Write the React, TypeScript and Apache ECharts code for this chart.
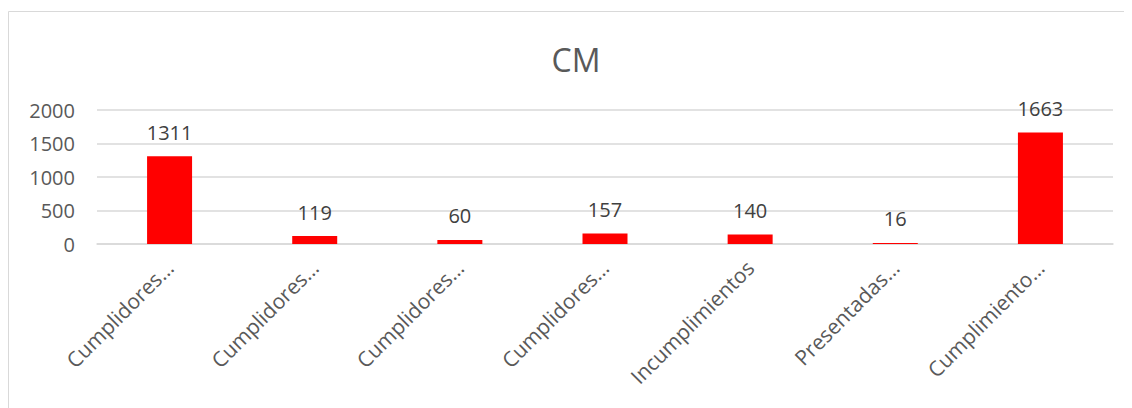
import React, { useEffect, useRef } from "react";
import * as echarts from "echarts";

const categories = [
  "Cumplidores…",
  "Cumplidores…",
  "Cumplidores…",
  "Cumplidores…",
  "Incumplimientos",
  "Presentadas…",
  "Cumplimiento…",
];
const values = [1311, 119, 60, 157, 140, 16, 1663];
const titleText = "CM";

export default function App() {
  const ref = useRef<HTMLDivElement>(null);
  useEffect(() => {
    if (!ref.current) return;
    const chart = echarts.init(ref.current, undefined, { renderer: "svg" });
    const font = "'Open Sans', sans-serif";
    chart.setOption({
      animation: false,
      backgroundColor: "#ffffff",
      title: {
        text: titleText,
        left: 563,
        textAlign: "center",
        top: 30,
        textStyle: { fontFamily: font, fontSize: 32, fontWeight: "normal", color: "#595959" },
      },
      graphic: [
        {
          type: "rect",
          shape: { x: 0.5, y: 3.5, width: 1300, height: 600 },
          style: { fill: "none", stroke: "#d9d9d9", lineWidth: 1 },
          silent: true,
        },
      ],
      grid: { left: 89, right: 11, top: 102, bottom: 164 },
      xAxis: {
        type: "category",
        data: categories,
        axisLine: { show: true, lineStyle: { color: "#d9d9d9", width: 1.5 } },
        axisTick: { show: false },
        axisLabel: {
          rotate: 45,
          interval: 0,
          margin: 20,
          fontFamily: font,
          fontSize: 21,
          color: "#595959",
        },
      },
      yAxis: {
        type: "value",
        min: 0,
        max: 2000,
        interval: 500,
        axisLine: { show: false },
        axisTick: { show: false },
        splitLine: { lineStyle: { color: "#d9d9d9", width: 1.5 } },
        axisLabel: {
          fontFamily: font,
          fontSize: 20,
          color: "#595959",
          margin: 22,
          formatter: (v: number) => String(v),
        },
      },
      series: [
        {
          type: "bar",
          data: values,
          barWidth: 45,
          itemStyle: { color: "#ff0000" },
          label: {
            show: true,
            position: "top",
            distance: 14,
            fontFamily: font,
            fontSize: 20,
            color: "#404040",
          },
        },
      ],
    });
    return () => chart.dispose();
  }, []);
  return <div ref={ref} style={{ width: "100%", height: 400 }} />;
}
